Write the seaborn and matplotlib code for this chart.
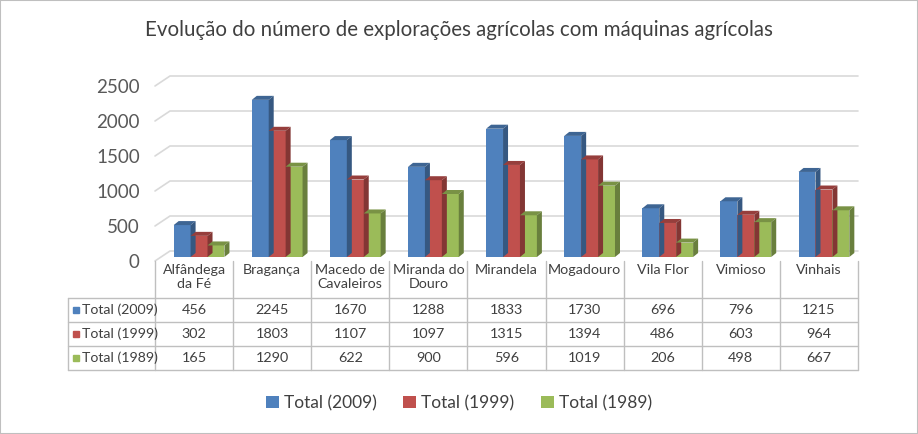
import numpy as np
import pandas as pd
import matplotlib
matplotlib.use("Agg")
import matplotlib.pyplot as plt
import matplotlib.transforms as mtransforms
from matplotlib.patches import Polygon, Patch, Rectangle
import matplotlib.colors as mcolors
import seaborn as sns

# dados
concelhos = ["Alfândega\nda Fé", "Bragança", "Macedo de\nCavaleiros", "Miranda do\nDouro",
             "Mirandela", "Mogadouro", "Vila Flor", "Vimioso", "Vinhais"]
series = ["Total (2009)", "Total (1999)", "Total (1989)"]
total_2009 = [456, 2245, 1670, 1288, 1833, 1730, 696, 796, 1215]
total_1999 = [302, 1803, 1107, 1097, 1315, 1394, 486, 603, 964]
total_1989 = [165, 1290, 622, 900, 596, 1019, 206, 498, 667]
yticks = [0, 500, 1000, 1500, 2000, 2500]
titulo = "Evolução do número de explorações agrícolas com máquinas agrícolas"

cores = ["#4F81BD", "#C0504D", "#9BBB59"]

df = pd.DataFrame({"concelho": concelhos * 3,
                   "serie": [s for s in series for _ in concelhos],
                   "valor": total_2009 + total_1999 + total_1989})

sns.set_style("white")
plt.rcParams["font.family"] = ["Lato", "DejaVu Sans"]

W, H = 918, 434
fig = plt.figure(figsize=(W / 100, H / 100), dpi=100)
# plano da frente: x 155..858 px, y 261 (0) .. 86 (2500) px
ax = fig.add_axes([155 / W, (H - 261) / H, (858 - 155) / W, (261 - 86) / H])

sns.barplot(data=df, x="concelho", y="valor", hue="serie", palette=cores,
            width=0.65, saturation=1, ax=ax, legend=False, linewidth=0, zorder=3)

ax.set_xlim(-0.5, len(concelhos) - 0.5)
ax.set_ylim(0, 2500)
ax.set_yticks(yticks)
ax.tick_params(axis="y", length=0, pad=11, labelsize=13.5, labelcolor="#595959")
ax.set_xticks([])
ax.set_xlabel("")
ax.set_ylabel("")
sns.despine(ax=ax, left=True, bottom=True)

# conversão px -> unidades de dados
px_x = (858 - 155) / len(concelhos)
px_y = (261 - 86) / 2500

# paredes / linhas de grelha em perspetiva
wall_dx, wall_dy = 15 / px_x, 10 / px_y
for v in yticks:
    ax.plot([-0.5, -0.5 + wall_dx, len(concelhos) - 0.5],
            [v, v + wall_dy, v + wall_dy],
            color="#D9D9D9", lw=1.2, zorder=1, clip_on=False)

# efeito 3D nas barras
off = mtransforms.ScaledTranslation(5 / 100, 4 / 100, fig.dpi_scale_trans)
dd_x, dd_y = 5 / px_x, 4 / px_y


def escurecer(c, f):
    r, g, b = mcolors.to_rgb(c)
    return (r * f, g * f, b * f)


for p in list(ax.patches):
    x0, y0 = p.get_x(), p.get_y()
    w, h = p.get_width(), p.get_height()
    fc = p.get_facecolor()
    p.set_transform(ax.transData + off)
    p.set_clip_on(False)
    topo = Polygon([(x0, y0 + h), (x0 + w, y0 + h), (x0 + w + dd_x, y0 + h + dd_y),
                    (x0 + dd_x, y0 + h + dd_y)], closed=True,
                   facecolor=escurecer(fc, 0.78), lw=0, zorder=3,
                   transform=ax.transData + off, clip_on=False)
    lado = Polygon([(x0 + w, y0), (x0 + w + dd_x, y0 + dd_y), (x0 + w + dd_x, y0 + h + dd_y),
                    (x0 + w, y0 + h)], closed=True,
                   facecolor=escurecer(fc, 0.68), lw=0, zorder=3,
                   transform=ax.transData + off, clip_on=False)
    ax.add_patch(topo)
    ax.add_patch(lado)

# tabela de dados
lab_w = (155 - 68) / px_x
tax = fig.add_axes([68 / W, (H - 370) / H, (858 - 68) / W, (370 - 261) / H])
tax.set_xlim(-0.5 - lab_w, len(concelhos) - 0.5)
tax.set_ylim(370, 261)
tax.axis("off")
gc = "#BFBFBF"
for k in range(len(concelhos) + 1):
    tax.plot([k - 0.5, k - 0.5], [261, 370], color=gc, lw=1, clip_on=False)
tax.plot([-0.5 - lab_w] * 2, [298, 370], color=gc, lw=1, clip_on=False)
for yl in [298, 322, 346, 370]:
    tax.plot([-0.5 - lab_w, len(concelhos) - 0.5], [yl, yl], color=gc, lw=1, clip_on=False)

txt = "#404040"
for i, c in enumerate(concelhos):
    tax.text(i, 264, c, ha="center", va="top", fontsize=10.3, color=txt, linespacing=1.2)

valores = [total_2009, total_1999, total_1989]
for r, (s, vals, cor) in enumerate(zip(series, valores, cores)):
    yc = 310 + 24 * r
    tax.plot([-0.5 - lab_w + 8 / px_x], [yc], marker="s", markersize=5, color=cor,
             clip_on=False)
    tax.text(-0.5 - lab_w + 14 / px_x, yc, s, ha="left", va="center", fontsize=10.2, color=txt)
    for i, v in enumerate(vals):
        tax.text(i, yc, str(v), ha="center", va="center", fontsize=10.4, color=txt)

# legenda
handles = [Patch(facecolor=c, edgecolor="none", label=s) for s, c in zip(series, cores)]
fig.legend(handles=handles, loc="center", bbox_to_anchor=(0.5, (H - 403) / H), ncol=3,
           frameon=False, fontsize=12.5, handlelength=0.75, handleheight=0.75,
           handletextpad=0.3, columnspacing=1.5, labelcolor="#404040")

fig.text(0.5, (H - 30) / H, titulo, ha="center", va="center", fontsize=14.8, color="#404040")

fig.patches.append(Rectangle((0, 0), 1, 1, transform=fig.transFigure, fill=False,
                             edgecolor="#BFBFBF", lw=1.5))

fig.savefig("out.png", dpi=100)
